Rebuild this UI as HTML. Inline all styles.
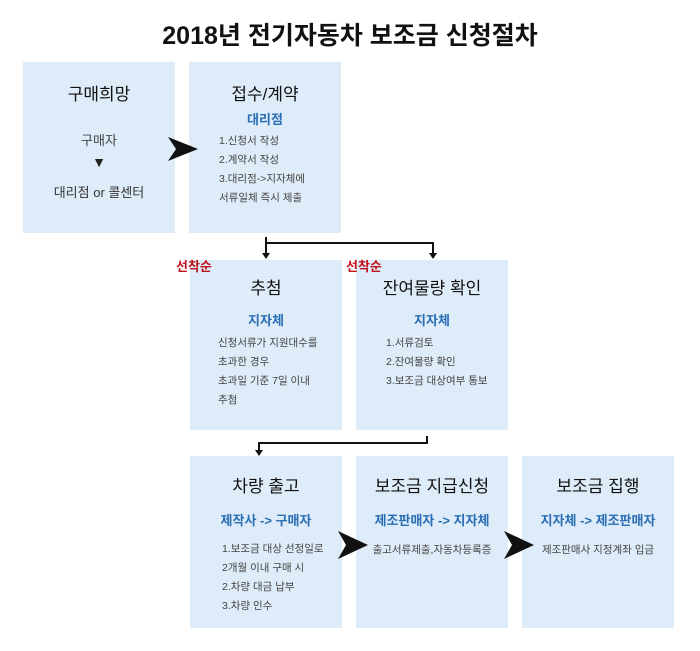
<!DOCTYPE html>
<html><head><meta charset="utf-8"><style>
body{margin:0;width:700px;height:651px;background:#fff;position:relative;overflow:hidden;font-family:"Liberation Sans","Noto Sans CJK KR",sans-serif;color:#222}
.b{position:absolute;background:#deebf8;text-align:center}
.t{position:absolute;left:0;right:0;font-size:17px;color:#111}
.s{position:absolute;left:0;right:0;font-size:13px;color:#2a6fb5;font-weight:bold}
.l{position:absolute;left:28px;font-size:10.5px;color:#444;text-align:left;line-height:19px}
.r{position:absolute;color:#c0131c;font-size:13px;font-weight:bold}
</style></head><body>
<div style="position:absolute;left:0;right:0;top:16px;text-align:center;font-size:25px;font-weight:bold;color:#111">2018년 전기자동차 보조금 신청절차</div>

<div class="b" style="left:23px;top:62px;width:152px;height:171px">
<div class="t" style="top:18px">구매희망</div>
<div style="position:absolute;left:0;right:0;top:68px;font-size:13px;color:#444">구매자</div>
<div style="position:absolute;left:0;right:0;top:92px;font-size:14px">▼</div>
<div style="position:absolute;left:0;right:0;top:120px;font-size:13px;color:#333">대리점 or 콜센터</div>
</div>
<div class="b" style="left:189px;top:62px;width:152px;height:171px">
<div class="t" style="top:18px">접수/계약</div>
<div class="s" style="top:47px">대리점</div>
<div class="l" style="top:70px;left:30px">1.신청서 작성<br>2.계약서 작성<br>3.대리점->지자체에<br>서류일체 즉시 제출</div>
</div>

<div class="b" style="left:190px;top:260px;width:152px;height:170px">
<div class="t" style="top:14px">추첨</div>
<div class="s" style="top:50px">지자체</div>
<div class="l" style="top:74px;left:28px">신청서류가 지원대수를<br>초과한 경우<br>초과일 기준 7일 이내<br>추첨</div>
</div>
<div class="b" style="left:356px;top:260px;width:152px;height:170px">
<div class="t" style="top:14px">잔여물량 확인</div>
<div class="s" style="top:50px">지자체</div>
<div class="l" style="top:74px;left:30px">1.서류검토<br>2.잔여물량 확인<br>3.보조금 대상여부 통보</div>
</div>
<div class="r" style="left:176px;top:256px">선착순</div>
<div class="r" style="left:346px;top:256px">선착순</div>

<div class="b" style="left:190px;top:456px;width:152px;height:172px">
<div class="t" style="top:16px">차량 출고</div>
<div class="s" style="top:54px">제작사 -> 구매자</div>
<div class="l" style="top:84px;left:32px">1.보조금 대상 선정일로<br>2개월 이내 구매 시<br>2.차량 대금 납부<br>3.차량 인수</div>
</div>
<div class="b" style="left:356px;top:456px;width:152px;height:172px">
<div class="t" style="top:16px">보조금 지급신청</div>
<div class="s" style="top:54px">제조판매자 -> 지자체</div>
<div style="position:absolute;left:0;right:0;top:86px;font-size:10.5px;color:#444">출고서류제출,자동차등록증</div>
</div>
<div class="b" style="left:522px;top:456px;width:152px;height:172px">
<div class="t" style="top:16px">보조금 집행</div>
<div class="s" style="top:54px">지자체 -> 제조판매자</div>
<div style="position:absolute;left:0;right:0;top:86px;font-size:10.5px;color:#444">제조판매사 지정계좌 입금</div>
</div>

<svg width="700" height="651" style="position:absolute;left:0;top:0">
<g fill="#111">
<polygon points="168,137 198,149 168,161 176,149"/>
<polygon points="338,531 368,545 338,559 346,545"/>
<polygon points="504,531 534,545 504,559 512,545"/>
</g>
<g stroke="#111" stroke-width="2" fill="none">
<path d="M266,237 V254"/>
<path d="M266,243 H433 V254"/>
<path d="M427,436 V443 H259 V451"/>
</g>
<g fill="#111">
<polygon points="262,253 270,253 266,259"/>
<polygon points="429,253 437,253 433,259"/>
<polygon points="255,450 263,450 259,456"/>
</g>
</svg>
</body></html>
